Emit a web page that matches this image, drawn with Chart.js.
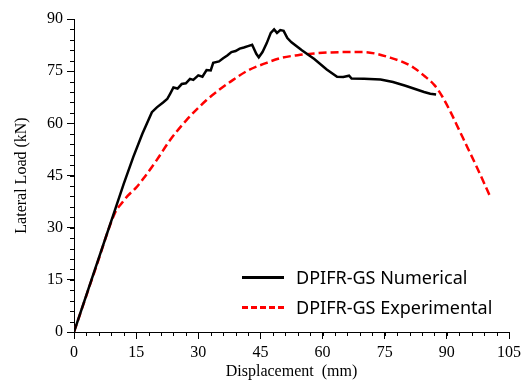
<!DOCTYPE html>
<html lang="en">
<head>
  <meta charset="UTF-8">
  <title>Lateral Load vs Displacement</title>
  <script src="https://cdn.jsdelivr.net/npm/chart.js"></script>
  <style>
    html, body { margin: 0; padding: 0; background: #fff; }
    #wrap { position: relative; width: 528px; height: 385px; }
    #legend { position: absolute; left: 242px; top: 262px; font-family: 'Noto Sans', sans-serif; font-size: 18px; color: #000; }
    .row { display: flex; align-items: center; height: 30px; }
    .swatch { width: 42px; margin-right: 12px; height: 0; }
  </style>
</head>
<body>
  <div id="wrap">
    <canvas id="chart" width="528" height="385"></canvas>
    <div id="legend">
      <div class="row"><span class="swatch" style="border-top: 3px solid #000;"></span>DPIFR-GS Numerical</div>
      <div class="row"><span class="swatch" style="border-top: 3px dashed #ff0000;"></span>DPIFR-GS Experimental</div>
    </div>
  </div>

  <script>
    // numerical curve, [displacement mm, load kN]
    const numDisp = [0, 5, 10, 12, 14.3, 16.5, 18.8, 20, 21.5, 22.5, 23.2, 24, 25, 26, 27, 28, 28.8, 30, 31, 32, 33, 33.6, 35, 36, 37, 38, 39, 40, 41, 42, 43, 44, 44.6, 45.5, 46.5, 47.5, 48.3, 49, 49.8, 50.6, 51.5, 52.5, 55, 58, 61, 63.5, 65, 66.4, 67, 70, 74, 77, 80, 84.5, 86, 87.4];
    const numLoad = [0, 17.8, 35.5, 42.6, 50.3, 57, 63.2, 64.6, 66, 67, 68.5, 70.3, 70, 71.3, 71.5, 72.8, 72.5, 73.8, 73.4, 75.3, 75.2, 77.4, 77.8, 78.7, 79.5, 80.5, 80.8, 81.5, 81.8, 82.2, 82.6, 80, 79, 80.5, 83, 86, 87, 86, 86.8, 86.6, 84.5, 83.3, 81, 78.5, 75.5, 73.4, 73.3, 73.7, 72.9, 72.8, 72.6, 71.9, 70.8, 69, 68.5, 68.3];

    // experimental curve
    const expDisp = [0, 5, 10, 11.5, 13, 15, 17, 20, 23.2, 27.2, 32, 35, 38.4, 42, 46.5, 50, 54, 58, 62, 66, 70, 73, 76, 79, 82, 84.5, 87, 89, 91, 93, 95, 97, 99, 100.6];
    const expLoad = [0, 17.5, 34.5, 37, 39.2, 41.5, 44.5, 49.5, 55.2, 61, 66.7, 69.6, 72.5, 75.2, 77.4, 78.8, 79.6, 80.1, 80.4, 80.5, 80.5, 80, 79, 77.8, 76, 73.7, 71, 67.5, 63, 58, 53, 48, 42.8, 38.5];

    const xTicks = [0, 15, 30, 45, 60, 75, 90, 105];
    const yTicks = [0, 15, 30, 45, 60, 75, 90];

    const toPoints = (xs, ys) => xs.map((x, i) => ({ x: x, y: ys[i] }));

    // short minor ticks every 3 units, outside the axes
    const minorTicks = {
      id: 'minorTicks',
      afterDraw(chart) {
        const ctx = chart.ctx;
        const xs = chart.scales.x, ys = chart.scales.y;
        ctx.save();
        ctx.strokeStyle = '#000';
        ctx.lineWidth = 1;
        ctx.beginPath();
        for (let v = 0; v <= 105; v += 3) {
          const px = Math.round(xs.getPixelForValue(v)) + 0.5;
          ctx.moveTo(px, ys.bottom);
          ctx.lineTo(px, ys.bottom + 4);
        }
        for (let v = 0; v <= 90; v += 3) {
          const py = Math.round(ys.getPixelForValue(v)) + 0.5;
          ctx.moveTo(xs.left, py);
          ctx.lineTo(xs.left - 4, py);
        }
        ctx.stroke();
        ctx.restore();
      }
    };

    const serif = { family: "'Liberation Serif', 'Times New Roman', serif", size: 16 };

    new Chart(document.getElementById('chart'), {
      type: 'line',
      data: {
        datasets: [{
          label: 'DPIFR-GS Numerical',
          data: toPoints(numDisp, numLoad),
          borderColor: '#000',
          borderWidth: 2.5,
          pointRadius: 0,
          tension: 0
        }, {
          label: 'DPIFR-GS Experimental',
          data: toPoints(expDisp, expLoad),
          borderColor: '#ff0000',
          borderWidth: 2.5,
          borderDash: [8, 4],
          pointRadius: 0,
          cubicInterpolationMode: 'monotone'
        }]
      },
      options: {
        responsive: false,
        animation: false,
        layout: { padding: { top: 19, right: 19, left: 8, bottom: 0 } },
        plugins: { legend: { display: false }, tooltip: { enabled: false } },
        scales: {
          x: {
            type: 'linear',
            min: 0, max: 105,
            afterBuildTicks: s => { s.ticks = xTicks.map(v => ({ value: v })); },
            afterFit: s => { s.height = 53; },
            border: { color: '#000', width: 1 },
            grid: { drawOnChartArea: false, drawTicks: true, tickLength: 7, color: '#000' },
            ticks: { color: '#000', font: serif, padding: 4, maxRotation: 0 },
            title: { display: true, text: 'Displacement  (mm)', color: '#000', font: serif, padding: { top: 0 } }
          },
          y: {
            min: 0, max: 90,
            afterBuildTicks: s => { s.ticks = yTicks.map(v => ({ value: v })); },
            afterFit: s => { s.width = 66; },
            border: { color: '#000', width: 1 },
            grid: { drawOnChartArea: false, drawTicks: true, tickLength: 7, color: '#000' },
            ticks: { color: '#000', font: serif, padding: 4 },
            title: { display: true, text: 'Lateral Load (kN)', color: '#000', font: serif, padding: { bottom: 4 } }
          }
        }
      },
      plugins: [minorTicks]
    });
  </script>
</body>
</html>
